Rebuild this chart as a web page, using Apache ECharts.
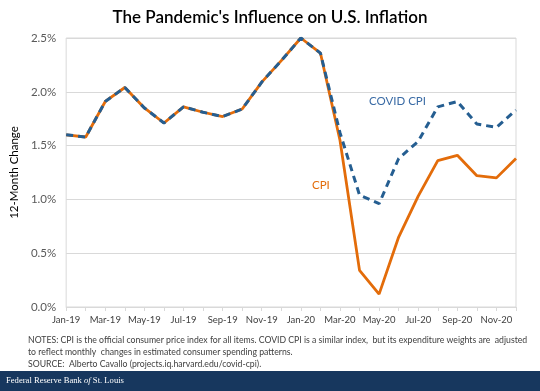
<!DOCTYPE html>
<html>
<head>
<meta charset="utf-8">
<script src="https://cdn.jsdelivr.net/npm/echarts@6/dist/echarts.min.js"></script>
<style>
html,body{margin:0;padding:0;background:#fff;}
#chart{width:540px;height:391px;}
</style>
</head>
<body>
<div id="chart"></div>
<script>
const months = ['Jan-19','Feb-19','Mar-19','Apr-19','May-19','Jun-19','Jul-19','Aug-19','Sep-19','Oct-19','Nov-19','Dec-19',
  'Jan-20','Feb-20','Mar-20','Apr-20','May-20','Jun-20','Jul-20','Aug-20','Sep-20','Oct-20','Nov-20','Dec-20'];
const cpi = [1.60,1.58,1.91,2.04,1.85,1.71,1.86,1.81,1.77,1.84,2.09,2.29,
  2.50,2.36,1.55,0.34,0.12,0.65,1.03,1.36,1.41,1.22,1.20,1.38];
const covidCpi = [1.60,1.58,1.91,2.04,1.85,1.71,1.86,1.81,1.77,1.84,2.09,2.29,
  2.50,2.36,1.62,1.04,0.96,1.38,1.54,1.86,1.91,1.70,1.67,1.83];
const yTicks = [0,0.5,1.0,1.5,2.0,2.5];

const ORANGE = '#E36C0A';
const BLUE = '#255E91';
const FONT = 'Lato, "Open Sans", sans-serif';

const chart = echarts.init(document.getElementById('chart'), null, {renderer:'canvas'});
chart.setOption({
  animation:false,
  backgroundColor:'#fff',
  title:{
    text:"The Pandemic's Influence on U.S. Inflation",
    left:'center', top:4,
    textStyle:{fontFamily:FONT, fontSize:17, fontWeight:600, color:'#000'}
  },
  grid:{left:57, right:24, top:38, bottom:84, show:true, borderColor:'#d9d9d9', borderWidth:1},
  xAxis:{
    type:'category', data:months, boundaryGap:false,
    axisLine:{lineStyle:{color:'#d9d9d9'}},
    axisTick:{show:true, interval:0, length:4, lineStyle:{color:'#d9d9d9'}},
    axisLabel:{interval:1, color:'#404040', fontFamily:FONT, fontSize:9.5, margin:8},
    splitLine:{show:false}
  },
  yAxis:{
    type:'value', min:yTicks[0], max:yTicks[yTicks.length-1], interval:0.5,
    name:'12-Month Change', nameLocation:'middle', nameGap:40,
    nameTextStyle:{fontFamily:FONT, fontSize:11.5, color:'#000'},
    axisLine:{show:false}, axisTick:{show:false},
    axisLabel:{color:'#595959', fontFamily:FONT, fontSize:11.5, margin:10,
      formatter:v=>v.toFixed(1)+'%'},
    splitLine:{lineStyle:{color:'#d9d9d9', width:1}}
  },
  series:[
    {name:'CPI', type:'line', data:cpi, symbol:'none', z:2,
      lineStyle:{color:ORANGE, width:2.8}},
    {name:'COVID CPI', type:'line', data:covidCpi, symbol:'none', z:3,
      lineStyle:{color:BLUE, width:3, type:[7,5]}}
  ],
  graphic:[
    {type:'text', left:369, top:95, style:{text:'COVID CPI', fill:'#3A6BA5', font:'11.5px '+FONT}},
    {type:'text', left:312, top:179, style:{text:'CPI', fill:ORANGE, font:'11.5px '+FONT}},
    {type:'text', left:28, top:334, style:{
      text:'NOTES: CPI is the official consumer price index for all items. COVID CPI is a similar index,  but its expenditure weights are  adjusted\nto reflect monthly  changes in estimated consumer spending patterns.\nSOURCE:  Alberto Cavallo (projects.iq.harvard.edu/covid-cpi).',
      fill:'#404040', font:'8.7px '+FONT, lineHeight:12}},
    {type:'rect', shape:{x:0, y:371, width:540, height:20}, style:{fill:'#17375E'}},
    {type:'text', left:6, top:376, style:{
      text:'{a|Federal Reserve Bank }{b|of}{a| St. Louis}',
      rich:{a:{fill:'#fff', font:'8.6px "Liberation Serif", "DejaVu Serif", serif'},
            b:{fill:'#fff', font:'italic 8.6px "Liberation Serif", "DejaVu Serif", serif'}}}}
  ]
});
</script>
</body>
</html>
